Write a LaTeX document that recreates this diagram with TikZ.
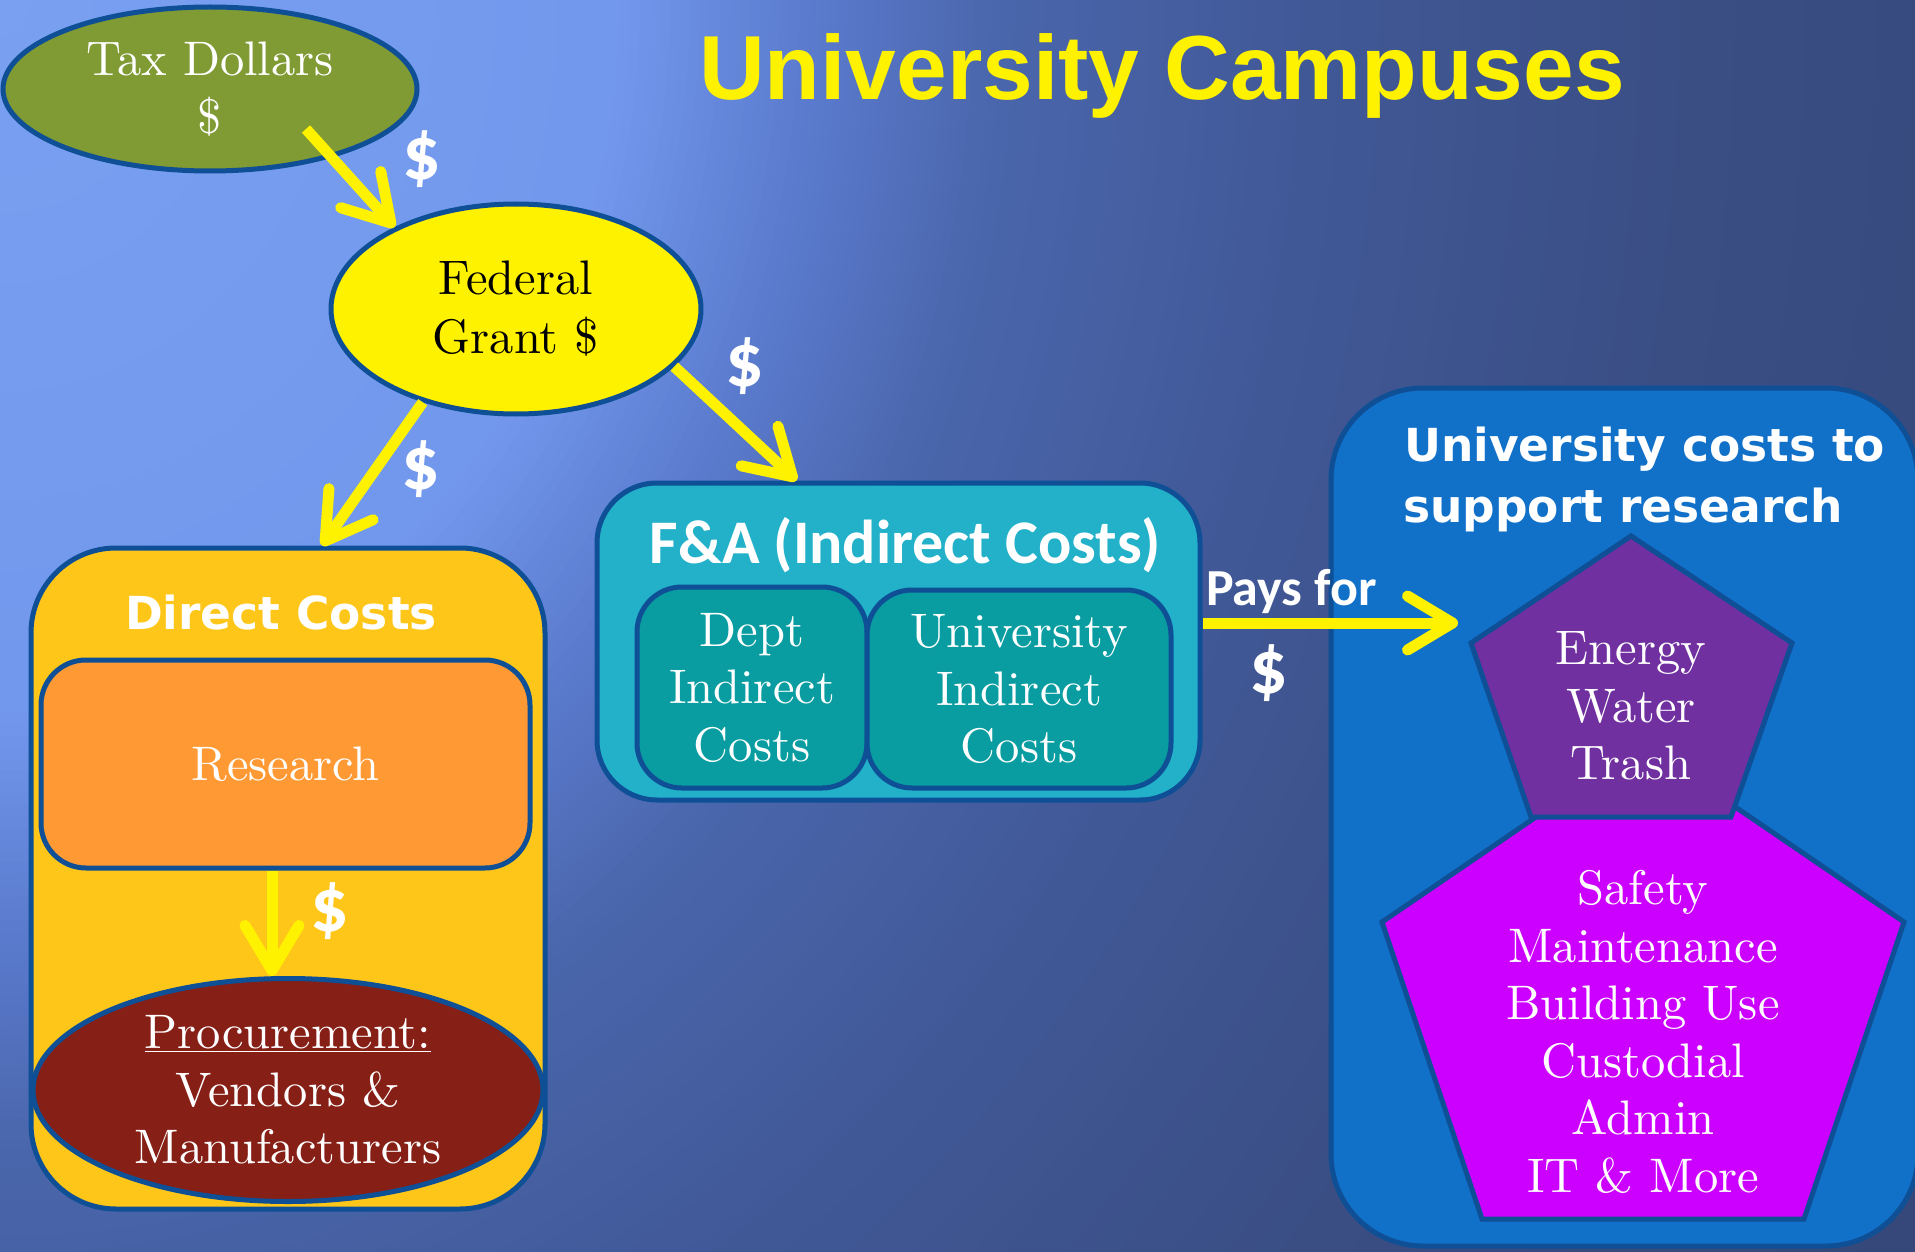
\documentclass[tikz,border=0pt]{standalone}
\usepackage{fontspec}
\newfontfamily\titlefont{Liberation Sans}
\newfontfamily\vsansfont{DejaVu Sans}
\newfontfamily\calfont{Carlito}
\newfontfamily\serifface{lmroman10-regular}[Extension=.otf]
\usetikzlibrary{shapes.geometric,arrows.meta,calc}
\definecolor{bord}{HTML}{0E4F96}
\definecolor{olivec}{HTML}{809A34}
\definecolor{goldc}{HTML}{FFC61A}
\definecolor{orangec}{HTML}{FF9933}
\definecolor{brownc}{HTML}{861F16}
\definecolor{cyanc}{HTML}{22B1C9}
\definecolor{tealc}{HTML}{099DA1}
\definecolor{bluec}{HTML}{1170C8}
\definecolor{purplec}{HTML}{7030A0}
\definecolor{magentac}{HTML}{CC00FF}
\definecolor{bgA}{RGB}{122,160,242}
\definecolor{bgAA}{RGB}{114,152,237}
\definecolor{bgB}{RGB}{90,122,205}
\definecolor{bgC}{RGB}{74,102,172}
\definecolor{bgD}{RGB}{65,89,152}
\definecolor{bgE}{RGB}{58,78,132}
\definecolor{bgF}{RGB}{52,70,118}
\definecolor{streak}{RGB}{128,165,240}
\tikzset{
  bd/.style={draw=bord, line width=5pt},
  serif/.style={font=\serifface\fontsize{48.5}{57.5}\selectfont, align=center, text=white},
  hd/.style={font=\vsansfont\bfseries\fontsize{45.5}{61}\selectfont, text=white, inner sep=0pt},
  dollar/.style={font=\calfont\bfseries\fontsize{76}{80}\selectfont, text=white, inner sep=0pt},
  arr/.style={draw=yellow, line width=11pt, -{Straight Barb[length=45pt,width=54pt,round]}},
}
\begin{document}
\begin{tikzpicture}[x=1pt,y=-1pt]
\useasboundingbox (0,0) rectangle (1915,1252);
% background
\begin{scope}
\clip (0,0) rectangle (1915,1252);
\fill[bgF] (0,0) rectangle (1915,1252);
\foreach \ra/\rb/\ca/\cb in {1700/2400/bgE/bgF, 1300/1700/bgD/bgE, 1000/1300/bgC/bgD, 820/1000/bgB/bgC, 620/820/bgAA/bgB, 0/620/bgA/bgAA}{
  \foreach \k in {0,...,19}{
    \pgfmathsetmacro{\rr}{\rb-(\rb-\ra)/20*\k}
    \pgfmathsetmacro{\pp}{(\rr-\ra)/(\rb-\ra)*100}
    \fill[\cb!\pp!\ca] (0,0) ellipse [x radius=\rr, y radius=1.15*\rr];
  }
}
% soft light streaks
\foreach \w in {8,16,...,160}{
  \fill[streak, opacity=0.012]
    ({1135+0.881*\w},{-176+0.473*\w}) -- ({275+0.881*\w},{1428+0.473*\w})
    -- ({275-0.881*\w},{1428-0.473*\w}) -- ({1135-0.881*\w},{-176-0.473*\w}) -- cycle;
}
\foreach \w in {6,12,...,90}{
  \fill[streak, opacity=0.012]
    ({1200+0.33*\w},{250+0.944*\w}) -- ({500+0.33*\w},{495+0.944*\w})
    -- ({500-0.33*\w},{495-0.944*\w}) -- ({1200-0.33*\w},{250-0.944*\w}) -- cycle;
}
\end{scope}
% title
\node[font=\titlefont\bfseries\fontsize{91}{100}\selectfont, text=yellow, anchor=base, inner sep=0pt] (title) at (1162,100) {University Campuses};
% tax and federal
\node[ellipse, bd, fill=olivec, minimum width=414pt, minimum height=164pt, inner sep=0pt, serif] (tax) at (210,89) {Tax Dollars\\\$};
\node[ellipse, bd, fill=yellow, minimum width=370pt, minimum height=210pt, inner sep=0pt, serif, font=\serifface\fontsize{48.5}{59}\selectfont, text=black] (fed) at (516,309) {Federal\\Grant \$};
% direct costs
\node[rectangle, bd, fill=goldc, rounded corners=85pt, minimum width=514pt, minimum height=661pt, inner sep=0pt] (direct) at (288,878.5) {};
\node[hd, anchor=base] (dctitle) at (281,629) {Direct Costs};
\node[rectangle, bd, fill=orangec, rounded corners=45pt, minimum width=489pt, minimum height=208pt, inner sep=0pt, serif] (research) at (285.5,764) {Research};
\node[ellipse, bd, fill=brownc, minimum width=510pt, minimum height=223pt, inner sep=0pt, serif] (proc) at (288,1090) {\underline{Procurement:}\\Vendors \&\\Manufacturers};
% F&A
\node[rectangle, bd, fill=cyanc, rounded corners=60pt, minimum width=603pt, minimum height=317pt, inner sep=0pt] (fa) at (898.5,641.5) {};
\node[font=\calfont\bfseries\fontsize{62}{70}\selectfont, text=white, inner sep=0pt, anchor=base] (fatitle) at (905.5,563) {F\&A (Indirect Costs)};
\node[rectangle, bd, fill=tealc, rounded corners=45pt, minimum width=230pt, minimum height=201pt, inner sep=0pt, serif] (dept) at (752,687.5) {Dept\\Indirect\\Costs};
\node[rectangle, bd, fill=tealc, rounded corners=45pt, minimum width=304pt, minimum height=198pt, inner sep=0pt, serif] (univ) at (1019,689) {University\\Indirect\\Costs};
% university costs
\node[rectangle, bd, fill=bluec, rounded corners=92pt, minimum width=587pt, minimum height=858pt, inner sep=0pt] (costs) at (1624.5,817) {};
\node[hd, anchor=base west] (ct1) at (1404,461) {University costs to};
\node[hd, anchor=base west] (ct2) at (1403,522) {support research};
\draw[bd, fill=magentac, line join=miter] (1643,744) -- (1904,922) -- (1804,1219) -- (1482,1219) -- (1382,922) -- cycle;
\draw[bd, fill=purplec, line join=miter] (1631,536) -- (1792,643) -- (1731,817) -- (1531,817) -- (1471,643) -- cycle;
\node[serif] (energy) at (1631,706) {Energy\\Water\\Trash};
\node[serif] (safety) at (1643,1032) {Safety\\Maintenance\\Building Use\\Custodial\\Admin\\IT \& More};
\node[font=\calfont\bfseries\fontsize{52}{60}\selectfont, text=white, inner sep=0pt, anchor=base west] (pays) at (1206,605) {Pays for};
% arrows
\coordinate (taxout) at (306,129);
\coordinate (paysend) at (1458,623);
\draw[arr] (taxout) -- (fed.146);
\draw[arr] (fed.225) -- ([xshift=34pt]direct.north);
\draw[arr] (fed.-20) -- ([xshift=-102pt]fa.north);
\draw[arr] ([xshift=-13.5pt]research.south) -- ([xshift=-16pt]proc.north);
\draw[arr] ([yshift=18.5pt]fa.east) -- (paysend);
% dollar labels
\node[dollar] (d1) at (422,159) {\$};
\node[dollar] (d2) at (421,469) {\$};
\node[dollar] (d3) at (745,366) {\$};
\node[dollar] (d4) at (330,911) {\$};
\node[dollar] (d5) at (1269,673) {\$};
\end{tikzpicture}
\end{document}
